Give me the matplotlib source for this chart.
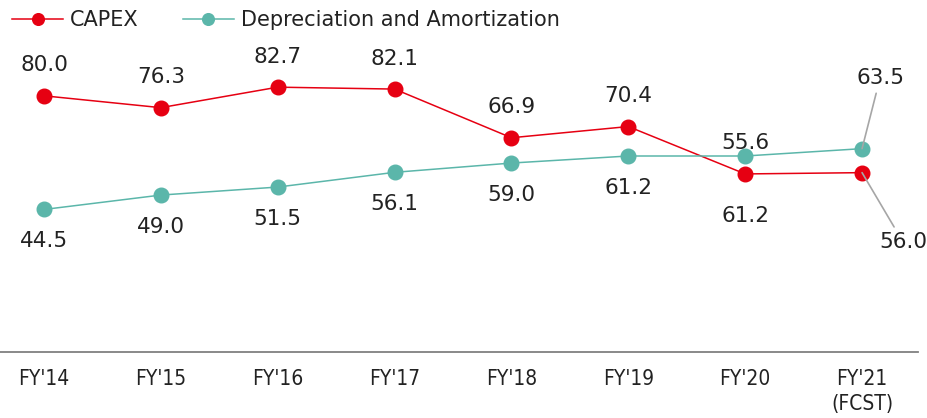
import matplotlib
matplotlib.use("Agg")
import matplotlib.pyplot as plt

# fiscal-year figures (billions)
years = ["FY'14", "FY'15", "FY'16", "FY'17", "FY'18", "FY'19", "FY'20", "FY'21\n(FCST)"]
capex = [80.0, 76.3, 82.7, 82.1, 66.9, 70.4, 55.6, 56.0]
dep_amort = [44.5, 49.0, 51.5, 56.1, 59.0, 61.2, 61.2, 63.5]

RED = "#E60012"
TEAL = "#5BB6AA"
TXT = "#222222"

plt.rcParams["font.family"] = ["DejaVu Sans"]

fig = plt.figure(figsize=(9.28, 4.18), dpi=100)
ax = fig.add_axes([0.0, 0.158, 918 / 928, 0.766])

x = list(range(len(years)))
ax.plot(x, capex, color=RED, lw=1.1, marker="o", ms=10.5, label="CAPEX", zorder=3)
ax.plot(x, dep_amort, color=TEAL, lw=1.1, marker="o", ms=10.5,
        label="Depreciation and Amortization", zorder=3)

lbl = dict(textcoords="offset points", ha="center", va="center",
           fontsize=15.5, color=TXT, annotation_clip=False)

# capex labels above, D&A labels below
for i in range(len(x) - 1):
    ax.annotate(f"{capex[i]:.1f}", (x[i], capex[i]), xytext=(0, 22), **lbl)
    dy = -43 if i == 6 else -23
    ax.annotate(f"{dep_amort[i]:.1f}", (x[i], dep_amort[i]), xytext=(0, dy), **lbl)

# forecast year uses leader lines
lead = dict(arrowstyle="-", color="#A6A6A6", lw=1.2, shrinkA=2, shrinkB=0)
ax.annotate(f"{dep_amort[7]:.1f}", (x[7], dep_amort[7]), xytext=(13, 51),
            arrowprops=lead, **lbl)
ax.annotate(f"{capex[7]:.1f}", (x[7], capex[7]), xytext=(29.5, -50),
            arrowprops=lead, **lbl)

ax.set_xlim(-44 / 117, 7 + 56 / 117)
ax.set_ylim(0, 100)
ax.set_yticks([])
ax.set_xticks(x)
ax.set_xticklabels(years, fontsize=15, color=TXT, fontstretch="condensed",
                   linespacing=1.35)
ax.tick_params(axis="x", length=0, pad=12)
for s in ["top", "right", "left"]:
    ax.spines[s].set_visible(False)
ax.spines["bottom"].set_color("#808080")
ax.spines["bottom"].set_linewidth(1.3)

fig.legend(loc="center left", bbox_to_anchor=(12 / 928, 1 - 20 / 418), ncol=2,
           frameon=False, fontsize=15, handlelength=2.45, handletextpad=0.35,
           columnspacing=2.1, borderaxespad=0, borderpad=0, markerscale=0.8,
           labelcolor=TXT)

fig.savefig("out.png", dpi=100)
